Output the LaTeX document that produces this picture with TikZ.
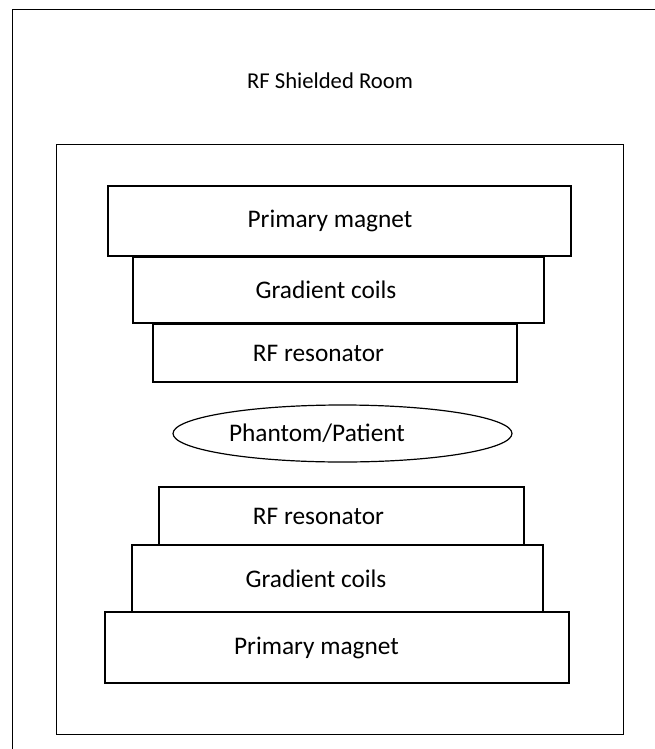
\documentclass[tikz,border=0pt]{standalone}
\usepackage{fontspec}
\setmainfont{Carlito}
\usepackage{tikz}
\usetikzlibrary{shapes.geometric,positioning}

\begin{document}
\begin{tikzpicture}[x=0.75pt, y=-0.75pt, line width=0.9pt,
    every node/.style={font=\fontsize{19}{22}\selectfont},
    part/.style 2 args={draw, inner sep=0pt, minimum width=#1*0.75pt, minimum height=#2*0.75pt},
    tag/.style 2 args={label={[xshift=#1*0.75pt]center:#2}}]
    \clip (0,0) rectangle (655,749);
    % shielded room and magnet room
    \node[part={720}{800}, anchor=north west] (room) at (12,9) {};
    \node[font=\fontsize{17}{20}\selectfont] (roomlabel) at (330,81) {RF Shielded Room};
    \node[part={567}{590}, anchor=north west] (magnetroom) at (56,144) {};

    % upper half
    \node[part={463}{70}, tag={-9.5}{Primary magnet}] (pm1) at (339.5,221) {};
    \node[part={411}{66}, tag={-12.5}{Gradient coils}] (gc1) at (338.5,290) {};
    \node[part={364}{58}, tag={-16.5}{RF resonator}] (rf1) at (335,353) {};

    \node[draw, ellipse, inner sep=0pt, minimum width=339*0.75pt, minimum height=57*0.75pt,
          tag={-25.5}{Phantom/Patient}] (patient) at (342.5,433.5) {};

    % lower half
    \node[part={365}{58}, tag={-23}{RF resonator}] (rf2) at (341.5,516) {};
    \node[part={411}{67}, tag={-21.5}{Gradient coils}] (gc2) at (337.5,578.5) {};
    \node[part={464}{71}, tag={-20.5}{Primary magnet}] (pm2) at (337,647.5) {};
\end{tikzpicture}
\end{document}
